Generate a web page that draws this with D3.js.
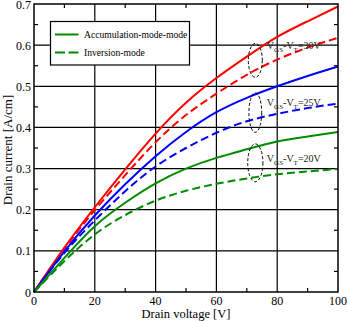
<!DOCTYPE html>
<html>
<head>
<meta charset="utf-8">
<script src="https://cdn.jsdelivr.net/npm/d3@7"></script>
<style>
  body { margin: 0; background: #fff; }
  svg { display: block; font-family: "Liberation Serif", "DejaVu Serif", serif; }
</style>
</head>
<body>
<div id="chart"></div>
<script>
// drain voltage samples [V]
const drainVoltage = [0, 10, 20, 30, 40, 50, 60, 70, 80, 90, 100];

// drain current [A/cm] for each gate overdrive
const accum30 = [0, 0.108, 0.206, 0.298, 0.385, 0.460, 0.520, 0.572, 0.620, 0.658, 0.694];
const inver30 = [0, 0.105, 0.199, 0.284, 0.364, 0.430, 0.482, 0.528, 0.565, 0.594, 0.618];
const accum25 = [0, 0.099, 0.186, 0.262, 0.330, 0.389, 0.437, 0.472, 0.500, 0.525, 0.548];
const inver25 = [0, 0.095, 0.174, 0.245, 0.305, 0.350, 0.387, 0.415, 0.433, 0.447, 0.458];
const accum20 = [0, 0.083, 0.160, 0.217, 0.264, 0.300, 0.326, 0.347, 0.366, 0.378, 0.389];
const inver20 = [0, 0.075, 0.140, 0.187, 0.222, 0.246, 0.263, 0.276, 0.286, 0.293, 0.299];

const xTicks = [0, 20, 40, 60, 80, 100];
const yTicks = [0, 0.1, 0.2, 0.3, 0.4, 0.5, 0.6, 0.7];
const groupLabels = ["30V", "25V", "20V"];
const legendLabels = ["Accumulation-mode-mode", "Inversion-mode"];

const width = 348, height = 321;
const marginLeft = 34, marginRight = 10, marginTop = 4, marginBottom = 29;

const x = d3.scaleLinear([0, 100], [marginLeft, width - marginRight]);
const y = d3.scaleLinear([0, 0.7], [height - marginBottom, marginTop]);

const svg = d3.select("#chart").append("svg")
    .attr("width", width)
    .attr("height", height)
    .attr("viewBox", [0, 0, width, height]);

// grid at the major ticks
svg.append("g")
    .attr("stroke", "#000")
    .attr("stroke-width", 1.2)
    .call(g => g.selectAll(".gx").data(xTicks.slice(1, -1)).join("line")
        .attr("x1", d => x(d)).attr("x2", d => x(d))
        .attr("y1", y(0)).attr("y2", y(0.7)))
    .call(g => g.selectAll(".gy").data(yTicks.slice(1, -1)).join("line")
        .attr("y1", d => y(d)).attr("y2", d => y(d))
        .attr("x1", x(0)).attr("x2", x(100)));

// inward minor ticks on all four sides
const xMinor = d3.range(10, 100, 20);
const yMinor = d3.range(0.05, 0.7, 0.1);
const ticks = svg.append("g").attr("stroke", "#000").attr("stroke-width", 1.2);
ticks.selectAll(".mb").data(xMinor).join("line")
    .attr("x1", d => x(d)).attr("x2", d => x(d)).attr("y1", y(0)).attr("y2", y(0) - 4);
ticks.selectAll(".mt").data(xMinor).join("line")
    .attr("x1", d => x(d)).attr("x2", d => x(d)).attr("y1", y(0.7)).attr("y2", y(0.7) + 4);
ticks.selectAll(".ml").data(yMinor).join("line")
    .attr("y1", d => y(d)).attr("y2", d => y(d)).attr("x1", x(0)).attr("x2", x(0) + 4);
ticks.selectAll(".mr").data(yMinor).join("line")
    .attr("y1", d => y(d)).attr("y2", d => y(d)).attr("x1", x(100)).attr("x2", x(100) - 4);

// tick labels
svg.append("g")
    .attr("font-size", 12)
    .attr("text-anchor", "middle")
    .selectAll("text").data(xTicks).join("text")
    .attr("x", d => x(d))
    .attr("y", y(0) + 12.5)
    .text(d => d);

svg.append("g")
    .attr("font-size", 12)
    .attr("text-anchor", "end")
    .selectAll("text").data(yTicks).join("text")
    .attr("x", x(0) - 3)
    .attr("y", d => y(d) + 4.6)
    .text(d => d === 0 ? "0" : d.toFixed(1));

// axis titles
svg.append("text")
    .attr("x", (x(0) + x(100)) / 2)
    .attr("y", height - 3)
    .attr("text-anchor", "middle")
    .attr("font-size", 12.5)
    .text("Drain voltage [V]");

svg.append("text")
    .attr("transform", `translate(12,${(y(0) + y(0.7)) / 2 + 2}) rotate(-90)`)
    .attr("text-anchor", "middle")
    .attr("font-size", 13)
    .text("Drain current [A/cm]");

// curves
const series = [
  {values: accum30, color: "#ff0000", dash: null},
  {values: inver30, color: "#ff0000", dash: "8,4"},
  {values: accum25, color: "#0000ff", dash: null},
  {values: inver25, color: "#0000ff", dash: "8,4"},
  {values: accum20, color: "#008b00", dash: null},
  {values: inver20, color: "#008b00", dash: "8,4"}
];

const line = d3.line()
    .x((d, i) => x(drainVoltage[i]))
    .y(d => y(d))
    .curve(d3.curveNatural);

svg.append("g")
    .attr("fill", "none")
    .attr("stroke-width", 2)
    .selectAll("path").data(series).join("path")
    .attr("stroke", d => d.color)
    .attr("stroke-dasharray", d => d.dash)
    .attr("d", d => line(d.values));

// dashed ellipses grouping each pair, with V_GS - V_T labels
const groups = [
  {v: 30, cy: 0.563, ry: 0.041, rx: 2.3},
  {v: 25, cy: 0.436, ry: 0.048, rx: 2.1},
  {v: 20, cy: 0.314, ry: 0.046, rx: 2.5}
];

const ann = svg.append("g");
ann.selectAll("ellipse").data(groups).join("ellipse")
    .attr("cx", x(72.8))
    .attr("cy", d => y(d.cy))
    .attr("rx", d => x(d.rx) - x(0))
    .attr("ry", d => y(0) - y(d.ry))
    .attr("fill", "none")
    .attr("stroke", "#000")
    .attr("stroke-width", 1)
    .attr("stroke-dasharray", "3,2");

const labelY = [0.591, 0.452, 0.315];
groups.forEach((g, i) => {
  const t = ann.append("text")
      .attr("x", x(76.6))
      .attr("y", y(labelY[i]))
      .attr("font-size", 10)
      .attr("fill", "#222");
  t.append("tspan").text("V");
  t.append("tspan").attr("font-size", 7).attr("dy", 3).text("GS");
  t.append("tspan").attr("dy", -3).text("-V");
  t.append("tspan").attr("font-size", 7).attr("dy", 3).text("T");
  t.append("tspan").attr("dy", -3).text("=" + groupLabels[i]);
});

// legend
const legend = svg.append("g");
legend.append("rect")
    .attr("x", 50.5).attr("y", 21.5)
    .attr("width", 139).attr("height", 43.5)
    .attr("fill", "#fff")
    .attr("stroke", "#000")
    .attr("stroke-width", 1.2);

legendLabels.forEach((label, i) => {
  const ly = 34.5 + i * 18;
  legend.append("line")
      .attr("x1", 55).attr("x2", 78.5)
      .attr("y1", ly).attr("y2", ly)
      .attr("stroke", "#008b00")
      .attr("stroke-width", 2)
      .attr("stroke-dasharray", i === 1 ? "10,3.5" : null);
  legend.append("text")
      .attr("x", 84)
      .attr("y", ly + 3.5)
      .attr("font-size", 9.6)
      .text(label);
});

// frame
svg.append("rect")
    .attr("x", x(0)).attr("y", y(0.7))
    .attr("width", x(100) - x(0)).attr("height", y(0) - y(0.7))
    .attr("fill", "none")
    .attr("stroke", "#000")
    .attr("stroke-width", 1.5);
</script>
</body>
</html>
